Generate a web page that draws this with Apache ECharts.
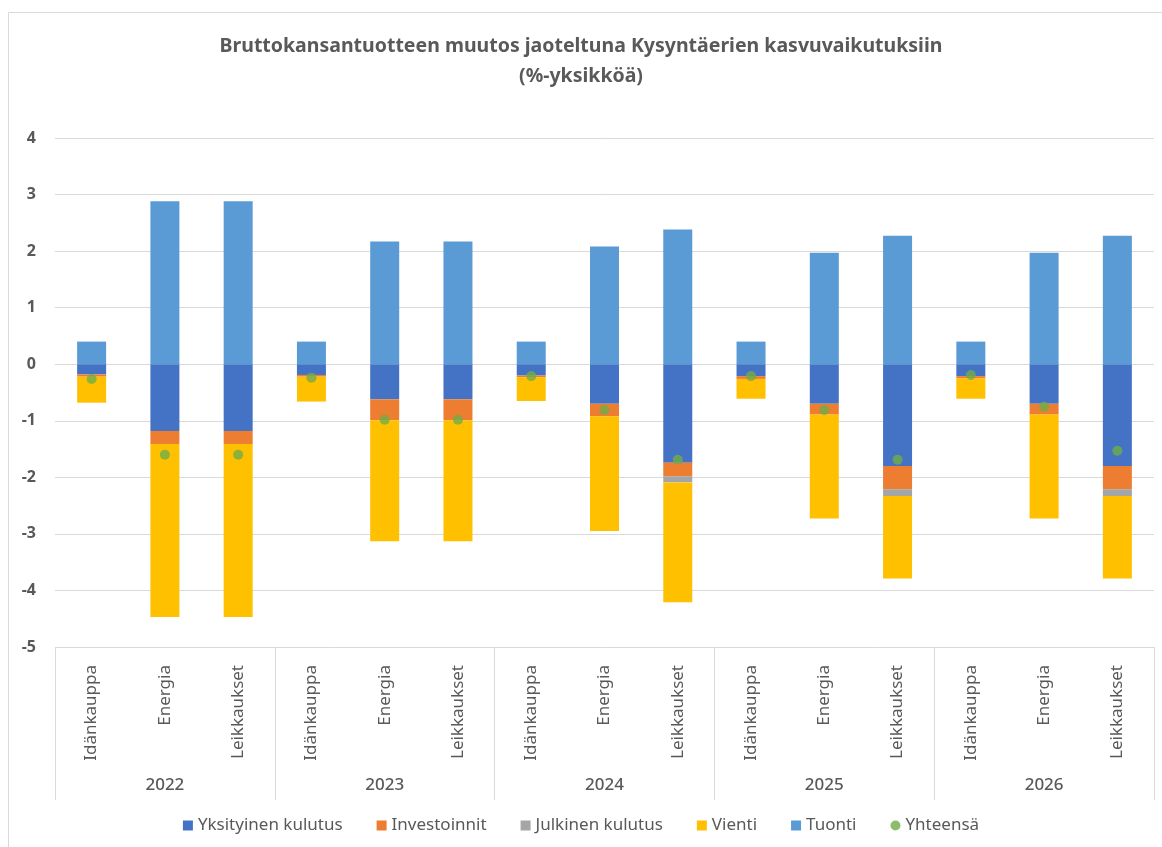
<!DOCTYPE html>
<html>
<head>
<meta charset="utf-8">
<script src="https://cdn.jsdelivr.net/npm/echarts@6/dist/echarts.min.js"></script>
<style>html,body{margin:0;padding:0;background:#fff}#c{width:1162px;height:847px}</style>
</head>
<body>
<div id="c"></div>
<script>
const categories = ["Idänkauppa","Energia","Leikkaukset","Idänkauppa","Energia","Leikkaukset","Idänkauppa","Energia","Leikkaukset","Idänkauppa","Energia","Leikkaukset","Idänkauppa","Energia","Leikkaukset"];
const years = ["2022","2023","2024","2025","2026"];
const yksityinen = [-0.18,-1.18,-1.18,-0.19,-0.62,-0.62,-0.20,-0.70,-1.74,-0.21,-0.70,-1.80,-0.21,-0.70,-1.80];
const investoinnit = [-0.04,-0.23,-0.23,-0.03,-0.37,-0.37,-0.03,-0.22,-0.24,-0.05,-0.19,-0.41,-0.04,-0.19,-0.41];
const julkinen = [0,0,0,0,0,0,0,0,-0.11,0,0,-0.12,0,0,-0.12];
const vienti = [-0.46,-3.06,-3.06,-0.44,-2.14,-2.14,-0.42,-2.03,-2.12,-0.35,-1.84,-1.46,-0.36,-1.84,-1.46];
const tuonti = [0.40,2.88,2.88,0.40,2.17,2.17,0.40,2.08,2.38,0.40,1.97,2.27,0.40,1.97,2.27];
const yhteensa = [-0.26,-1.60,-1.60,-0.24,-0.98,-0.98,-0.21,-0.81,-1.69,-0.21,-0.81,-1.69,-0.19,-0.75,-1.53];
const yTicks = {min:-5, max:4, interval:1};

const FONT = "Noto Sans";
const TXT = "#595959";
const chart = echarts.init(document.getElementById('c'), null, {renderer:'canvas'});
function bar(name, data, color){
  return {name, type:'bar', stack:'s', data, barWidth:29, itemStyle:{color}, xAxisIndex:0, yAxisIndex:0};
}
chart.setOption({
  animation:false,
  backgroundColor:'#fff',
  title:{
    text:'Bruttokansantuotteen muutos jaoteltuna Kysyntäerien kasvuvaikutuksiin\n(%-yksikköä)',
    left:'center', top:26,
    textStyle:{fontFamily:FONT, fontSize:19.5, fontWeight:'bold', color:TXT, lineHeight:30}
  },
  graphic:[{type:'rect', shape:{x:8.5,y:12.5,width:1200,height:900}, style:{fill:null, stroke:'#d9d9d9', lineWidth:1}, silent:true}],
  legend:{
    bottom:8, left:'center', itemWidth:10, itemHeight:10, itemGap:34,
    textStyle:{fontFamily:FONT, fontSize:17, color:TXT},
    data:[
      {name:'Yksityinen kulutus', icon:'rect'},
      {name:'Investoinnit', icon:'rect'},
      {name:'Julkinen kulutus', icon:'rect'},
      {name:'Vienti', icon:'rect'},
      {name:'Tuonti', icon:'rect'},
      {name:'Yhteensä', icon:'circle'}
    ]
  },
  grid:{left:55, right:8, top:138, bottom:200, containLabel:false},
  xAxis:[
    {type:'category', data:categories, position:'bottom',
     axisLine:{show:false}, axisTick:{show:false},
     axisLabel:{rotate:90, interval:0, margin:18, fontFamily:FONT, fontSize:17, color:TXT}},
    {type:'category', data:years, position:'bottom',
     axisLine:{show:false},
     axisTick:{show:true, length:153, lineStyle:{color:'#d9d9d9'}},
     axisLabel:{interval:0, margin:130, fontFamily:FONT, fontSize:17, fontWeight:500, color:TXT}}
  ],
  yAxis:{type:'value', min:yTicks.min, max:yTicks.max, interval:yTicks.interval,
    axisLine:{show:false}, axisTick:{show:false},
    splitLine:{lineStyle:{color:'#d9d9d9', width:1}},
    axisLabel:{margin:19, fontFamily:FONT, fontSize:16, fontWeight:'bold', color:TXT}},
  series:[
    bar('Yksityinen kulutus', yksityinen, '#4472c4'),
    bar('Investoinnit', investoinnit, '#ed7d31'),
    bar('Julkinen kulutus', julkinen, '#a5a5a5'),
    bar('Vienti', vienti, '#ffc000'),
    bar('Tuonti', tuonti, '#5b9bd5'),
    {name:'Yhteensä', type:'scatter', data:yhteensa, symbolSize:10, itemStyle:{color:'#70ad47'}, xAxisIndex:0, yAxisIndex:0, z:5}
  ]
});
</script>
</body>
</html>
